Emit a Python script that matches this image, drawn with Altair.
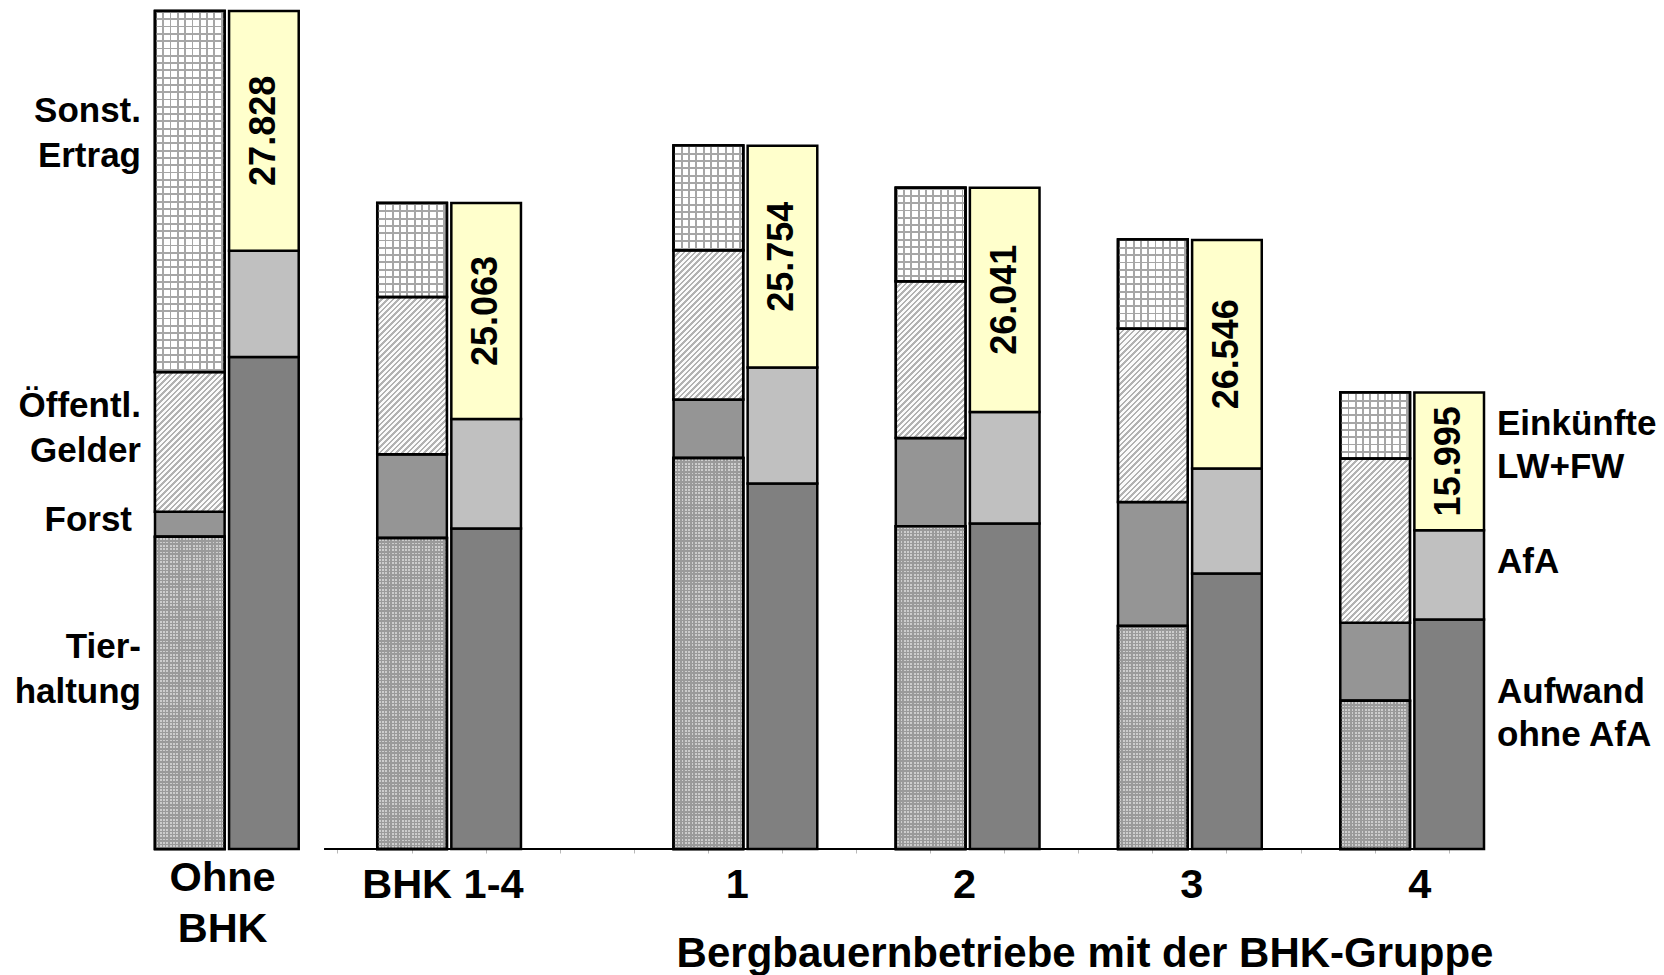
import altair as alt
import pandas as pd

# ---------------- data (€ per farm) ----------------
groups = ["Ohne BHK", "BHK 1-4", "1", "2", "3", "4"]
group_labels = ["Ohne\nBHK", "BHK 1-4", "1", "2", "3", "4"]

# left bar of each group: Ertrag
tierhaltung = [36240, 36120, 45400, 37480, 25880, 17210]
forst = [2900, 9710, 6780, 10250, 14420, 9050]
oeffentl_gelder = [16250, 18250, 17320, 18180, 20120, 19080]
sonst_ertrag = [41900, 10910, 12180, 10870, 10330, 7660]

# right bar of each group: Aufwand + Einkünfte
aufwand_ohne_afa = [57130, 37210, 42430, 37800, 31990, 26650]
afa = [12330, 12720, 13460, 12940, 12180, 10360]
einkuenfte = [27828, 25063, 25754, 26041, 26546, 15995]

left_segments = [("Tierhaltung", tierhaltung), ("Forst", forst),
                 ("Öffentl. Gelder", oeffentl_gelder), ("Sonst. Ertrag", sonst_ertrag)]
right_segments = [("Aufwand ohne AfA", aufwand_ohne_afa), ("AfA", afa),
                  ("Einkünfte LW+FW", einkuenfte)]

seg_names = [n for n, _ in left_segments] + [n for n, _ in right_segments]
seg_colors = ["#b0b0b0", "#959595", "#d8d8d8", "#e0e0e0", "#808080", "#c0c0c0", "#ffffcc"]

left_labels = ["Sonst.\nErtrag", "Öffentl.\nGelder", "Forst", "Tier-\nhaltung"]
right_labels = ["Einkünfte\nLW+FW", "AfA", "Aufwand\nohne AfA"]
x_title = "Bergbauernbetriebe mit der BHK-Gruppe"

# ---------------- layout ----------------
FONT = "Liberation Sans"
W, H = 1329, 838
YMAX = 97290
PAD_INNER = 0.06

gap_after = {"Ohne BHK": 1, "BHK 1-4": 2, "1": 1, "2": 1, "3": 1, "4": 0}
slot_order = []
for g in groups:
    slot_order += [g + "|L", g + "|R"]
    slot_order += [f"{g}|gap{k}" for k in range(gap_after[g])]

step_px = W / (len(slot_order) - PAD_INNER)
band_px = step_px * (1 - PAD_INNER)

rows = []
for i, g in enumerate(groups):
    for o, (name, vals) in enumerate(left_segments):
        rows.append({"slot": g + "|L", "segment": name, "value": vals[i], "ord": o})
    for o, (name, vals) in enumerate(right_segments):
        rows.append({"slot": g + "|R", "segment": name, "value": vals[i], "ord": o})
bars_df = pd.DataFrame(rows)

val_df = pd.DataFrame({
    "slot": [g + "|R" for g in groups],
    "mid": [a + b + e / 2 for a, b, e in zip(aufwand_ohne_afa, afa, einkuenfte)],
    "label": [f"{e:,}".replace(",", ".") for e in einkuenfte],
})
axis_df = pd.DataFrame({"slot": [slot_order[2]], "slot_end": [slot_order[-1]], "zero": [0]})

xscale = alt.Scale(domain=slot_order, paddingInner=PAD_INNER, paddingOuter=0)
xaxis = alt.Axis(values=slot_order[2:], labels=False, domain=False, grid=False,
                 ticks=True, tickColor="#b8b8b8", tickSize=4, tickWidth=1, title=None)
yscale = alt.Scale(domain=[0, YMAX], nice=False, zero=True)
STROKE = dict(stroke="black", strokeWidth=2.5)


def stripes(period_frac, line_frac, line_col, bg_col):
    """hard-edged repeating stops along a gradient"""
    stops, k = [], 0
    while k * period_frac < 1:
        a = k * period_frac
        b = min(1, a + line_frac * period_frac)
        c = min(1, (k + 1) * period_frac)
        stops += [{"offset": a, "color": line_col}, {"offset": b, "color": line_col},
                  {"offset": b, "color": bg_col}, {"offset": c, "color": bg_col}]
        k += 1
    return stops


bars = alt.Chart(bars_df).mark_bar(**STROKE).encode(
    x=alt.X("slot:N", scale=xscale, axis=xaxis, sort=slot_order),
    y=alt.Y("value:Q", stack="zero", scale=yscale, axis=None),
    color=alt.Color("segment:N", scale=alt.Scale(domain=seg_names, range=seg_colors), legend=None),
    order=alt.Order("ord:Q", sort="ascending"),
)
layers = [bars]


def grid_layers(df, lo, hi, h_px, period, frac, line_col, bg_col):
    vg = {"gradient": "linear", "x1": 0, "y1": 0, "x2": 1, "y2": 0,
          "stops": stripes(period / band_px, frac, line_col, bg_col)}
    hg = {"gradient": "linear", "x1": 0, "y1": 0, "x2": 0, "y2": 1,
          "stops": stripes(period / h_px, frac, line_col, "rgba(255,255,255,0)")}
    return [alt.Chart(df).mark_bar(fill=grad, **STROKE).encode(
        x=alt.X("slot:N", scale=xscale, axis=xaxis),
        y=alt.Y(lo + ":Q", scale=yscale, axis=None), y2=hi + ":Q") for grad in (vg, hg)]


# texture overlays: fine dots (Tierhaltung), diagonal hatch (Öffentl. Gelder), grid (Sonst. Ertrag)
for i, g in enumerate(groups):
    hi_t = tierhaltung[i]
    lo_o = hi_t + forst[i]
    hi_o = lo_o + oeffentl_gelder[i]
    hi_s = hi_o + sonst_ertrag[i]
    seg_df = pd.DataFrame({"slot": [g + "|L"], "zero": [0], "hi_t": [hi_t],
                           "lo_o": [lo_o], "hi_o": [hi_o], "hi_s": [hi_s]})

    layers += grid_layers(seg_df, "zero", "hi_t", tierhaltung[i] * H / YMAX,
                          3.3, 0.45, "#9a9a9a", "#cdcdcd")

    w = band_px
    h = oeffentl_gelder[i] * H / YMAX
    lam = (w + h) / (w * w + h * h)
    hatch = {"gradient": "linear", "x1": 0, "y1": 0, "x2": lam * w, "y2": lam * h,
             "stops": stripes(5.6 / (w + h), 0.45, "#b2b2b2", "#fbfbfb")}
    layers.append(alt.Chart(seg_df).mark_bar(fill=hatch, **STROKE).encode(
        x=alt.X("slot:N", scale=xscale, axis=xaxis),
        y=alt.Y("lo_o:Q", scale=yscale, axis=None), y2="hi_o:Q"))

    layers += grid_layers(seg_df, "hi_o", "hi_s", sonst_ertrag[i] * H / YMAX,
                          7.3, 0.26, "#a6a6a6", "#ffffff")

layers.append(alt.Chart(axis_df).mark_rule(color="black", strokeWidth=2).encode(
    x=alt.X("slot:N", scale=xscale, axis=xaxis, bandPosition=0.3),
    x2=alt.X2("slot_end:N", bandPosition=1),
    y=alt.Y("zero:Q", scale=yscale, axis=None),
))

layers.append(alt.Chart(val_df).mark_text(
    font=FONT, fontWeight="bold", fontSize=36, angle=270, align="center", baseline="middle", color="black"
).encode(
    x=alt.X("slot:N", scale=xscale, axis=xaxis),
    y=alt.Y("mid:Q", scale=yscale, axis=None),
    text="label:N",
))

# group labels under the bar pairs
grp_dx = [-4, -6, -8, -3, 2, 8]
grp_y = [H + 9, H + 16, H + 16, H + 16, H + 16, H + 16]
for g, lab, dx, yp in zip(groups, group_labels, grp_dx, grp_y):
    layers.append(alt.Chart(pd.DataFrame({"slot": [g + "|L"], "t": [lab]})).mark_text(
        font=FONT, fontWeight="bold", fontSize=41.5, align="center", baseline="top",
        lineBreak="\n", lineHeight=51, color="black", dx=2 + dx
    ).encode(
        x=alt.X("slot:N", scale=xscale, axis=xaxis, bandPosition=1),
        y=alt.value(yp),
        text="t:N",
    ))

left_y = [100, 395, 509, 636]
left_x = [-14, -14, -23, -14]
for lab, yp, xp in zip(left_labels, left_y, left_x):
    layers.append(alt.Chart(pd.DataFrame({"t": [lab]})).mark_text(
        font=FONT, fontWeight="bold", fontSize=35, align="right", baseline="middle",
        lineBreak="\n", lineHeight=45, color="black"
    ).encode(x=alt.value(xp), y=alt.value(yp), text="t:N"))

right_y = [413, 551, 681]
for lab, yp in zip(right_labels, right_y):
    layers.append(alt.Chart(pd.DataFrame({"t": [lab]})).mark_text(
        font=FONT, fontWeight="bold", fontSize=35, align="left", baseline="middle",
        lineBreak="\n", lineHeight=43, color="black"
    ).encode(x=alt.value(W + 13), y=alt.value(yp), text="t:N"))

layers.append(alt.Chart(pd.DataFrame({"t": [x_title]})).mark_text(
    font=FONT, fontWeight="bold", fontSize=42, align="center", baseline="middle", color="black"
).encode(x=alt.value(930), y=alt.value(943), text="t:N"))

chart = alt.layer(*layers).properties(
    width=W, height=H,
    autosize=alt.AutoSizeParams(type="none"),
    padding={"left": 147, "top": 3, "right": 172, "bottom": 126},
).configure_view(stroke=None)

chart.save("out.html", embed_options={"renderer": "svg", "actions": False})
